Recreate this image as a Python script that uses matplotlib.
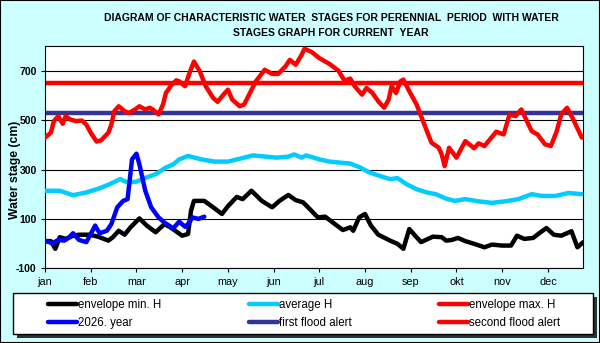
import matplotlib
matplotlib.use('Agg')
import matplotlib.pyplot as plt
from matplotlib.patches import Rectangle
from matplotlib.lines import Line2D

plt.rcParams['font.family'] = ['Liberation Sans', 'DejaVu Sans']

# ---------------- data ----------------
months = ['jan', 'feb', 'mar', 'apr', 'may', 'jun', 'jul', 'aug', 'sep', 'okt', 'nov', 'dec']
month_starts = [0, 31, 62, 93, 124, 155, 186, 217, 248, 279, 310, 341]
y_ticks = [-100, 100, 300, 500, 700]

min_days = [0, 4, 7, 10, 14, 19, 23, 30, 36, 43, 46, 50, 54, 58, 64, 69, 75, 81, 85, 89,
            93, 97, 99, 101, 108, 114, 120, 124, 130, 134, 140, 147, 154, 159, 165, 170, 175, 180, 185, 190,
            195, 202, 207, 209, 213, 217, 221, 226, 234, 239, 243, 247, 251, 255, 263, 269, 272, 276, 280, 285,
            291, 298, 303, 310, 316, 320, 325, 331, 336, 340, 345, 350, 357, 361, 365]
min_vals = [10, 10, -21, 26, 19, 32, 36, 36, 28, 12, 26, 52, 36, 66, 102, 73, 46, 79, 66, 49,
            32, 39, 133, 173, 173, 147, 120, 151, 189, 180, 214, 173, 147, 173, 197, 176, 167, 137, 106, 109,
            86, 55, 66, 52, 106, 120, 73, 36, 12, -1, -21, 59, 32, 6, 28, 26, 12, 15, 23, 10,
            -1, -15, -4, -8, -8, 32, 19, 23, 46, 63, 36, 32, 50, -15, 6]

avg_days = [0, 10, 19, 28, 37, 44, 51, 56, 62, 69, 75, 82, 87, 91, 97, 106, 115, 124, 133, 141,
            150, 157, 165, 169, 174, 177, 180, 186, 193, 207, 213, 220, 227, 234, 239, 245, 252, 259, 265, 272,
            278, 285, 294, 303, 312, 321, 330, 337, 346, 355, 364]
avg_vals = [214, 214, 196, 207, 224, 241, 261, 247, 251, 268, 281, 308, 321, 341, 355, 341, 332, 332, 345, 357,
            352, 348, 352, 361, 348, 357, 352, 341, 332, 324, 310, 288, 274, 261, 265, 241, 220, 207, 200, 182,
            173, 180, 171, 165, 171, 180, 200, 193, 193, 205, 200]

max_days = [0, 4, 6, 9, 12, 14, 17, 21, 25, 28, 31, 35, 38, 43, 45, 47, 50, 54, 57, 61,
            64, 68, 71, 73, 77, 80, 82, 86, 89, 91, 95, 98, 101, 105, 109, 114, 117, 121, 124, 127,
            132, 135, 139, 143, 149, 154, 158, 163, 166, 170, 174, 176, 181, 186, 193, 199, 203, 207, 210, 215,
            218, 222, 226, 230, 233, 235, 238, 241, 243, 247, 252, 255, 259, 262, 267, 269, 271, 274, 279, 285,
            291, 294, 298, 306, 311, 315, 319, 323, 330, 334, 339, 343, 347, 350, 354, 358, 364]
max_vals = [429, 449, 496, 516, 485, 516, 503, 496, 498, 482, 449, 413, 418, 449, 482, 536, 556, 536, 529, 543,
            556, 543, 550, 543, 523, 563, 610, 644, 661, 657, 637, 691, 737, 697, 637, 590, 574, 603, 623, 583,
            556, 563, 610, 657, 704, 687, 687, 717, 744, 724, 764, 789, 775, 751, 727, 700, 660, 668, 637, 603,
            630, 610, 576, 550, 583, 637, 610, 657, 664, 617, 563, 516, 455, 409, 388, 361, 314, 388, 348, 415,
            386, 406, 395, 453, 442, 523, 516, 543, 455, 442, 402, 395, 455, 523, 550, 505, 429]

cur_days = [0, 5, 9, 13, 16, 19, 23, 28, 31, 34, 37, 42, 45, 49, 53, 56, 59, 62, 64, 68,
            72, 77, 81, 87, 91, 95, 97, 100, 104, 108]
cur_vals = [12, 1, 15, 12, 23, 42, 15, 6, 39, 73, 42, 52, 79, 147, 173, 180, 341, 364, 321, 214,
            147, 106, 85, 62, 89, 68, 79, 106, 100, 109]

first_alert = 527
second_alert = 650

labels = ['envelope min. H', '2026. year', 'average H', 'first flood alert',
          'envelope max. H', 'second flood alert']
colors = ['#000000', '#0000ff', '#00ccff', '#333399', '#ff0000', '#ff0000']

# ---------------- figure ----------------
W, H = 600, 343
fig = plt.figure(figsize=(W / 100, H / 100), dpi=100)
fig.patch.set_facecolor('#ccffff')

ax = fig.add_axes([45 / W, 1 - 268.3 / H, (583.3 - 45) / W, (268.3 - 46) / H])
ax.set_facecolor('white')

lw = 3.2
kw = dict(lw=lw, solid_joinstyle='round', solid_capstyle='round')
ax.axhline(first_alert, color=colors[3], lw=lw, zorder=2)
ax.axhline(second_alert, color=colors[5], lw=lw, zorder=2)
ax.plot(max_days, max_vals, color=colors[4], zorder=3, **kw)
ax.plot(avg_days, avg_vals, color=colors[2], zorder=3, **kw)
ax.plot(min_days, min_vals, color=colors[0], zorder=3, **kw)
ax.plot(cur_days, cur_vals, color=colors[1], zorder=4, **kw)

ax.set_xlim(0, 365)
ax.set_ylim(-100, 800)
ax.set_yticks(y_ticks)
ax.set_yticklabels([str(v) for v in y_ticks], fontsize=7.5, fontweight='bold')
ax.set_xticks(month_starts)
ax.set_xticklabels(months, fontsize=7.8)
ax.tick_params(axis='both', length=3, width=0.8, color='black', pad=3)
ax.yaxis.grid(True, color='black', lw=0.8)
ax.set_axisbelow(True)
for s in ax.spines.values():
    s.set_color('black')
    s.set_linewidth(0.8)

# title and y label
fig.text(331 / W, 1 - 18 / H,
         'DIAGRAM OF CHARACTERISTIC WATER  STAGES FOR PERENNIAL  PERIOD  WITH WATER',
         ha='center', va='center', fontsize=7.5, fontweight='bold')
fig.text(331 / W, 1 - 32.5 / H, 'STAGES GRAPH FOR CURRENT  YEAR',
         ha='center', va='center', fontsize=7.5, fontweight='bold')
fig.text(15 / W, 1 - 170 / H, 'Water stage (cm)', rotation=90,
         ha='center', va='center', fontsize=8.8, fontweight='bold')

# legend box with shadow
bx0, by0, bx1, by1 = 13.3, 293.3, 593.3, 334.3
fig.add_artist(Rectangle(((bx0 + 4) / W, 1 - (by1 + 4) / H), (bx1 - bx0) / W, (by1 - by0) / H,
                         transform=fig.transFigure, facecolor='#303030', edgecolor='none', zorder=5))
fig.add_artist(Rectangle((bx0 / W, 1 - by1 / H), (bx1 - bx0) / W, (by1 - by0) / H,
                         transform=fig.transFigure, facecolor='white', edgecolor='black', lw=1, zorder=6))
handles = [Line2D([], [], color=c, lw=lw, solid_capstyle='round') for c in colors]
leg = fig.legend(handles, labels, ncol=3, mode='expand',
                 bbox_to_anchor=(48 / W, 1 - 335 / H, (560 - 48) / W, (335 - 293) / H),
                 loc='center', frameon=False, fontsize=8.3, borderpad=0, borderaxespad=0,
                 handlelength=2.5, handletextpad=0.1, labelspacing=0.6)
leg.set_zorder(7)

# figure border
fig.add_artist(Rectangle((0, 0), 1, 1, transform=fig.transFigure, fill=False,
                         edgecolor='black', lw=1.5, zorder=8))

fig.savefig('out.png', dpi=100, facecolor=fig.get_facecolor())
